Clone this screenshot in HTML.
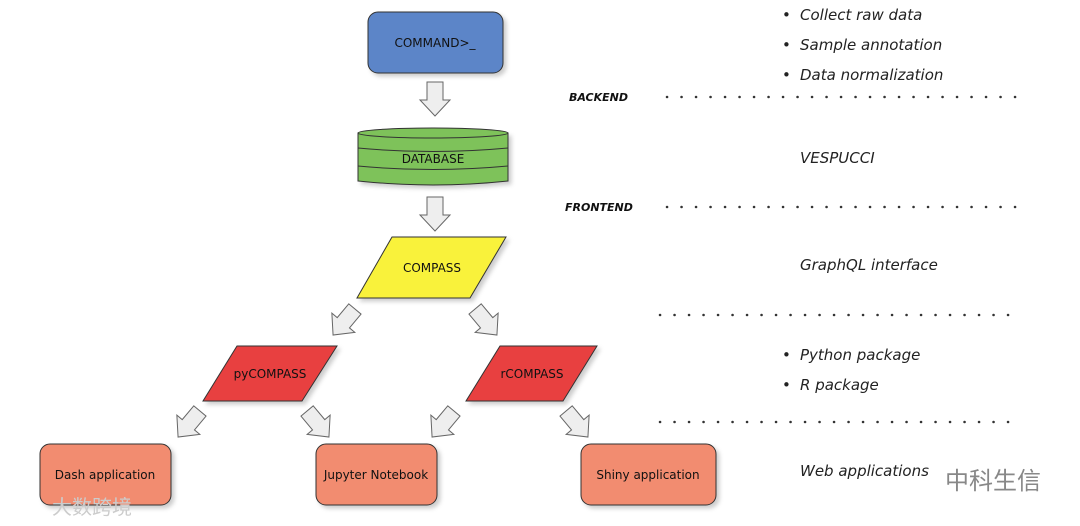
<!DOCTYPE html>
<html><head><meta charset="utf-8"><style>body{margin:0;background:#fff}svg{display:block}</style></head><body>
<svg width="1080" height="526" viewBox="0 0 1080 526" xmlns="http://www.w3.org/2000/svg" font-family="DejaVu Sans, Liberation Sans, sans-serif">
<defs>
<path id="ar" d="M-8,-17 L8,-17 L8,1 L15,1 L0,17 L-15,1 L-8,1 Z" fill="#eeeeee" stroke="#666" stroke-width="1"/>
<filter id="sh" x="-10%" y="-10%" width="130%" height="130%"><feDropShadow dx="3" dy="3" stdDeviation="2" flood-color="#000" flood-opacity="0.2"/></filter>
</defs>
<rect x="368" y="12" width="135" height="61" rx="10" fill="#5b85c8" stroke="#333" stroke-width="1" filter="url(#sh)"/>
<text x="435" y="47" font-size="12" text-anchor="middle" fill="#111">COMMAND&gt;_</text>
<use href="#ar" transform="translate(435,99)"/>
<g stroke="#333" stroke-width="1" fill="#7ec25a" filter="url(#sh)">
<path d="M358,133 L358,181 Q433,189 508,181 L508,133 Z"/>
</g>
<g stroke="#333" stroke-width="1" fill="none">
<ellipse cx="433" cy="133" rx="75" ry="5" fill="#7ec25a"/>
<path d="M358,148 Q433,155 508,148"/>
<path d="M358,166 Q433,173 508,166"/>
</g>
<text x="433" y="163" font-size="12" text-anchor="middle" fill="#111">DATABASE</text>
<use href="#ar" transform="translate(435,214)"/>
<polygon points="392,237 506,237 470,298 357,298" fill="#f9f23a" stroke="#333" stroke-width="1" filter="url(#sh)"/>
<text x="432" y="272" font-size="12" text-anchor="middle" fill="#111">COMPASS</text>
<use href="#ar" transform="translate(344,322) rotate(40)"/>
<use href="#ar" transform="translate(486,322) rotate(-40)"/>
<polygon points="237,346 337,346 302,401 203,401" fill="#e84040" stroke="#333" stroke-width="1" filter="url(#sh)"/>
<text x="270" y="378" font-size="12" text-anchor="middle" fill="#111">pyCOMPASS</text>
<polygon points="500,346 597,346 563,401 466,401" fill="#e84040" stroke="#333" stroke-width="1" filter="url(#sh)"/>
<text x="532" y="378" font-size="12" text-anchor="middle" fill="#111">rCOMPASS</text>
<use href="#ar" transform="translate(189,424) rotate(40)"/>
<use href="#ar" transform="translate(318,424) rotate(-40)"/>
<use href="#ar" transform="translate(443,424) rotate(40)"/>
<use href="#ar" transform="translate(577,424) rotate(-40)"/>
<g fill="#f28c70" stroke="#333" stroke-width="1" filter="url(#sh)">
<rect x="40" y="444" width="131" height="61" rx="10"/>
<rect x="316" y="444" width="121" height="61" rx="10"/>
<rect x="581" y="444" width="135" height="61" rx="10"/>
</g>
<g font-size="12" text-anchor="middle" fill="#111">
<text x="105" y="479">Dash application</text>
<text x="376" y="479">Jupyter Notebook</text>
<text x="648" y="479">Shiny application</text>
</g>
<g font-size="15" font-style="italic" fill="#222">
<text x="782" y="20">•</text><text x="800" y="20">Collect raw data</text>
<text x="782" y="50">•</text><text x="800" y="50">Sample annotation</text>
<text x="782" y="80">•</text><text x="800" y="80">Data normalization</text>
<text x="800" y="163">VESPUCCI</text>
<text x="800" y="270">GraphQL interface</text>
<text x="782" y="360">•</text><text x="800" y="360">Python package</text>
<text x="782" y="390">•</text><text x="800" y="390">R package</text>
<text x="800" y="476">Web applications</text>
</g>
<g font-size="11" font-style="italic" font-weight="bold" fill="#111">
<text x="569" y="101">BACKEND</text>
<text x="565" y="211">FRONTEND</text>
</g>
<g stroke="#333" stroke-width="2.5" stroke-linecap="round" stroke-dasharray="0.1 14.4">
<line x1="667" y1="97" x2="1016" y2="97"/>
<line x1="667" y1="207" x2="1016" y2="207"/>
<line x1="660" y1="315" x2="1020" y2="315"/>
<line x1="660" y1="422" x2="1020" y2="422"/>
</g>
<text x="945" y="489" font-size="24" fill="#888" font-family="Liberation Sans, Noto Sans CJK SC, sans-serif">中科生信</text>
<text x="52" y="514" font-size="20" fill="#ccc" font-family="Liberation Sans, Noto Sans CJK SC, sans-serif">大数跨境</text>
</svg>
</body></html>
